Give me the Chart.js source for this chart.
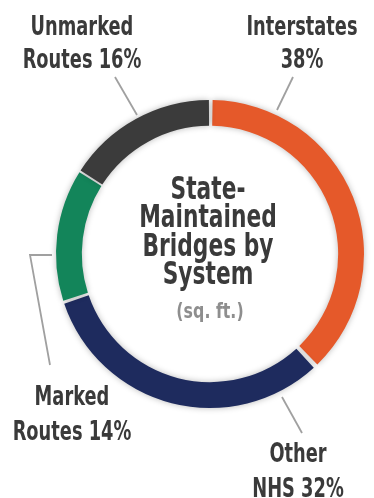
<!DOCTYPE html>
<html>
<head>
<meta charset="utf-8">
<script src="https://cdn.jsdelivr.net/npm/chart.js@4/dist/chart.umd.min.js"></script>
<style>
  html, body { margin: 0; padding: 0; background: #ffffff; }
  #wrap { width: 374px; height: 498px; }
</style>
</head>
<body>
<div id="wrap"><canvas id="c" width="374" height="498"></canvas></div>
<script>
// Share of state-maintained bridge deck area by system (percent)
const categories = ['Interstates', 'Other NHS', 'Marked Routes', 'Unmarked Routes'];
const shares = [38, 32, 14, 16];
const sliceColors = ['#E5592A', '#1E2B5E', '#13855A', '#3B3B3B'];
const titleLines = ['State-', 'Maintained', 'Bridges by', 'System'];
const unitLine = '(sq. ft.)';

// Callout text: first word on line one, the rest plus the share on line two
function calloutLines(name, pct) {
  const words = name.split(' ');
  const first = words.shift();
  const rest = words.join(' ');
  return [first, (rest ? rest + ' ' : '') + pct + '%'];
}

// Callout placement relative to the ring centre: text anchor and leader path
const callouts = [
  { text: [  92, -219], gap: 33, path: [[ 67, -144], [ 83, -177]] },
  { text: [  88,  208], gap: 35, path: [[ 72,  143], [ 92,  179]] },
  { text: [-138,  151], gap: 35, path: [[-158,   1], [-180,   1], [-160, 111]] },
  { text: [-128, -219], gap: 33, path: [[-73, -139], [-95, -177]] }
];

const FONT = '"DejaVu Sans", sans-serif';

function narrowText(ctx, str, x, y, size, color, squeeze) {
  ctx.save();
  ctx.translate(x, y);
  ctx.scale(squeeze, 1);
  ctx.font = 'bold ' + size + 'px ' + FONT;
  ctx.fillStyle = color;
  ctx.textAlign = 'center';
  ctx.textBaseline = 'alphabetic';
  ctx.fillText(str, 0, 0);
  ctx.restore();
}

const ringShadow = {
  id: 'ringShadow',
  beforeDatasetsDraw(chart) {
    const ctx = chart.ctx;
    ctx.save();
    ctx.shadowColor = 'rgba(0,0,0,0.28)';
    ctx.shadowBlur = 6;
  },
  afterDatasetsDraw(chart) {
    chart.ctx.restore();
  }
};

const annotations = {
  id: 'annotations',
  afterDraw(chart) {
    const ctx = chart.ctx;
    const arcs = chart.getDatasetMeta(0).data;
    const cx = arcs[0].x, cy = arcs[0].y;

    // centre title
    titleLines.forEach((line, i) => {
      narrowText(ctx, line, cx - 2, cy - 55 + i * 28.3, 32, '#3A3A3A', 0.68);
    });
    narrowText(ctx, unitLine, cx, cy + 64, 22, '#8E8E8E', 0.72);

    // callouts with leader lines
    ctx.save();
    ctx.strokeStyle = '#A0A0A0';
    ctx.lineWidth = 1.8;
    callouts.forEach((c, i) => {
      ctx.beginPath();
      c.path.forEach((p, k) => {
        if (k === 0) ctx.moveTo(cx + p[0], cy + p[1]);
        else ctx.lineTo(cx + p[0], cy + p[1]);
      });
      ctx.stroke();
      const lines = calloutLines(categories[i], shares[i]);
      lines.forEach((line, k) => {
        narrowText(ctx, line, cx + c.text[0], cy + c.text[1] + k * c.gap, 27, '#3A3A3A', 0.66);
      });
    });
    ctx.restore();
  }
};

new Chart(document.getElementById('c'), {
  type: 'doughnut',
  data: {
    labels: categories,
    datasets: [{
      data: shares,
      backgroundColor: sliceColors,
      borderWidth: 0,
      spacing: 4
    }]
  },
  options: {
    responsive: false,
    animation: false,
    events: [],
    cutout: '83%',
    rotation: 0,
    layout: { padding: { left: 56, right: 10, top: 100, bottom: 90 } },
    plugins: {
      legend: { display: false },
      tooltip: { enabled: false }
    }
  },
  plugins: [ringShadow, annotations]
});
</script>
</body>
</html>
